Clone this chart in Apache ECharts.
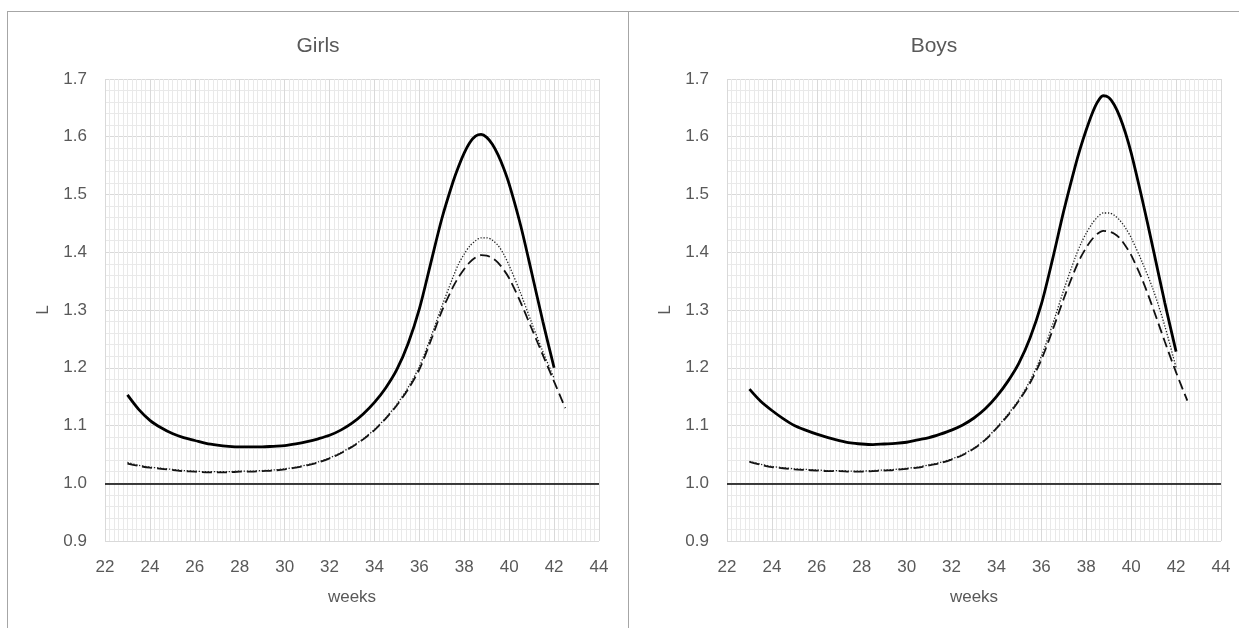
<!DOCTYPE html>
<html>
<head>
<meta charset="utf-8">
<script src="https://cdn.jsdelivr.net/npm/echarts@6/dist/echarts.min.js"></script>
<style>
body{margin:0;background:#fff;}
#wrap{position:relative;width:1239px;height:628px;background:#fff;overflow:hidden;}
.panel{position:absolute;top:11px;height:617px;border-left:1px solid #a6a6a6;border-top:1px solid #a6a6a6;box-sizing:border-box;}
</style>
</head>
<body>
<div id="wrap">
  <div id="girls" class="panel" style="left:7px;width:621px"></div>
  <div id="boys" class="panel" style="left:628px;width:611px"></div>
</div>
<script>
// gestational age (weeks), shared by all curves (finer steps round the peak)
var weeks = [23,23.5,24,24.5,25,25.5,26,26.5,27,27.5,28,28.5,29,29.5,30,30.5,31,31.5,32,32.5,
             33,33.5,34,34.5,35,35.5,36,36.5,37,
             37.5,37.75,38,38.25,38.5,38.75,39,39.25,39.5,39.75,40,
             40.5,41,41.5,42,42.5];

// Girls
var girlsSolid  = [1.153,1.128,1.109,1.096,1.086,1.079,1.074,1.069,1.066,1.064,1.063,1.063,1.063,1.064,1.065,1.068,1.072,1.077,1.083,1.092,
                   1.104,1.120,1.140,1.165,1.197,1.242,1.302,1.380,1.458,
                   1.522,1.549,1.572,1.590,1.601,1.604,1.599,1.587,1.569,1.546,1.518,
                   1.448,1.365,1.280,1.200,null];
var girlsDotted = [1.036,1.031,1.028,1.026,1.024,1.022,1.021,1.020,1.020,1.020,1.021,1.021,1.022,1.023,1.025,1.028,1.032,1.037,1.044,1.053,
                   1.064,1.077,1.093,1.113,1.137,1.166,1.202,1.252,1.306,
                   1.357,1.380,1.397,1.411,1.420,1.425,1.425,1.421,1.412,1.397,1.377,
                   1.330,1.278,1.228,1.182,null];
var girlsDashed = [1.034,1.030,1.027,1.025,1.023,1.021,1.020,1.019,1.019,1.019,1.020,1.020,1.021,1.022,1.024,1.027,1.031,1.036,1.043,1.052,
                   1.063,1.076,1.092,1.112,1.135,1.163,1.197,1.246,1.298,
                   1.340,1.357,1.371,1.383,1.391,1.395,1.394,1.390,1.382,1.370,1.355,
                   1.314,1.268,1.222,1.176,1.130];

// Boys
var boysSolid  = [1.163,1.142,1.126,1.112,1.100,1.092,1.085,1.079,1.074,1.070,1.068,1.067,1.068,1.069,1.071,1.075,1.079,1.085,1.092,1.101,
                  1.113,1.129,1.150,1.176,1.208,1.252,1.310,1.388,1.472,
                  1.548,1.582,1.612,1.639,1.660,1.671,1.668,1.655,1.634,1.606,1.572,
                  1.490,1.402,1.312,1.228,null];
var boysDotted = [1.038,1.033,1.029,1.027,1.025,1.024,1.023,1.022,1.022,1.021,1.021,1.022,1.023,1.024,1.026,1.028,1.032,1.036,1.042,1.050,
                  1.061,1.076,1.096,1.119,1.145,1.178,1.220,1.275,1.335,
                  1.390,1.414,1.433,1.449,1.461,1.468,1.468,1.464,1.455,1.442,1.425,
                  1.382,1.333,1.272,1.200,null];
var boysDashed = [1.037,1.032,1.028,1.026,1.024,1.023,1.022,1.021,1.021,1.020,1.020,1.021,1.022,1.023,1.025,1.027,1.031,1.035,1.041,1.049,
                  1.060,1.075,1.095,1.117,1.143,1.174,1.214,1.265,1.320,
                  1.370,1.391,1.408,1.422,1.432,1.437,1.436,1.432,1.424,1.411,1.395,
                  1.352,1.300,1.245,1.192,1.143];

var font = '"Liberation Sans", Arial, sans-serif';
var grey = '#595959';

function pairs(xs, ys) {
    var out = [];
    for (var i = 0; i < xs.length; i++) {
        if (ys[i] != null) out.push([xs[i], ys[i]]);
    }
    return out;
}

function makePanel(id, name, solid, dotted, dashed, gridPos) {
    var myChart = echarts.init(document.getElementById(id), null, {renderer: 'canvas'});
    var option = {
        animation: false,
        backgroundColor: '#fff',
        title: {
            text: name,
            left: 'center',
            top: 19,
            textStyle: {color: grey, fontSize: 21, fontWeight: 'normal', fontFamily: font}
        },
        grid: {
            left: gridPos.left, right: gridPos.right, top: 67, bottom: 87,
            containLabel: false, outerBoundsMode: 'none'
        },
        xAxis: {
            type: 'value',
            min: 22, max: 44, interval: 2,
            name: 'weeks',
            nameLocation: 'middle',
            nameGap: 48,
            nameTextStyle: {color: grey, fontSize: 17, fontFamily: font},
            axisLine: {show: false},
            axisTick: {show: false},
            axisLabel: {color: grey, fontSize: 17, fontFamily: font, margin: 18},
            splitLine: {show: true, lineStyle: {color: '#d9d9d9', width: 1}},
            minorTick: {show: false, splitNumber: 10},
            minorSplitLine: {show: true, lineStyle: {color: '#e9e9e9', width: 1}}
        },
        yAxis: {
            type: 'value',
            min: 0.9, max: 1.7, interval: 0.1,
            name: 'L',
            nameLocation: 'middle',
            nameGap: 53,
            nameTextStyle: {color: grey, fontSize: 17, fontFamily: font},
            axisLine: {show: false},
            axisTick: {show: false},
            axisLabel: {
                color: grey, fontSize: 17, fontFamily: font, margin: 18,
                formatter: function (v) { return v.toFixed(1); }
            },
            splitLine: {show: true, lineStyle: {color: '#d9d9d9', width: 1}},
            minorTick: {show: false, splitNumber: 5},
            minorSplitLine: {show: true, lineStyle: {color: '#e9e9e9', width: 1}}
        },
        series: [
            {
                name: 'solid',
                type: 'line',
                data: pairs(weeks, solid),
                smooth: 0.3,
                showSymbol: false,
                lineStyle: {color: '#000', width: 2.8},
                markLine: {
                    silent: true,
                    symbol: 'none',
                    label: {show: false},
                    lineStyle: {color: '#000', width: 1.5, type: 'solid'},
                    data: [{yAxis: 1.0}]
                },
                z: 5
            },
            {
                name: 'dotted',
                type: 'line',
                data: pairs(weeks, dotted),
                smooth: 0.3,
                showSymbol: false,
                lineStyle: {color: '#222', width: 1.3, type: [1.3, 1.7]},
                z: 4
            },
            {
                name: 'dashed',
                type: 'line',
                data: pairs(weeks, dashed),
                smooth: 0.3,
                showSymbol: false,
                lineStyle: {color: '#111', width: 1.8, type: [10, 5]},
                z: 3
            }
        ]
    };
    myChart.setOption(option);
}

makePanel('girls', 'Girls', girlsSolid, girlsDotted, girlsDashed, {left: 97, right: 29});
makePanel('boys', 'Boys', boysSolid, boysDotted, boysDashed, {left: 98, right: 18});
</script>
</body>
</html>
